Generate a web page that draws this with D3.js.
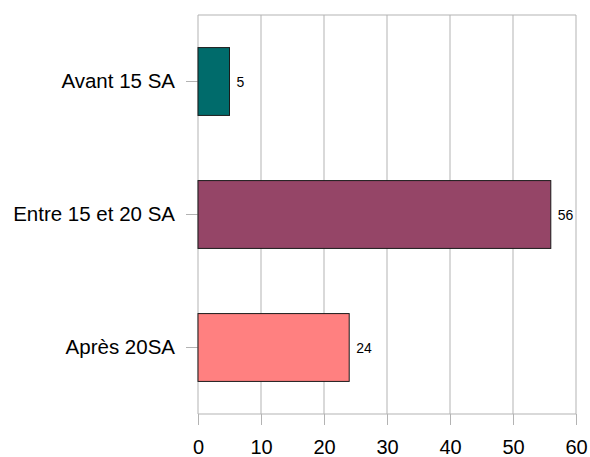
<!DOCTYPE html>
<html>
<head>
<meta charset="utf-8">
<script src="https://cdn.jsdelivr.net/npm/d3@7/dist/d3.min.js"></script>
<style>
  body { margin: 0; background: #fff; }
  svg text { font-family: "Liberation Sans", Arial, sans-serif; fill: #000; }
</style>
</head>
<body>
<div id="chart"></div>
<script>
// chart data
var categories = ["Avant 15 SA", "Entre 15 et 20 SA", "Après 20SA"];
var values = [5, 56, 24];
var colors = ["#006b6b", "#954567", "#ff8080"];
var xTicks = [0, 10, 20, 30, 40, 50, 60];

var width = 590, height = 457;
var margin = {top: 15, right: 14, bottom: 43, left: 198};
var plotW = width - margin.left - margin.right;
var plotH = height - margin.top - margin.bottom;

var svg = d3.select("#chart").append("svg")
    .attr("width", width)
    .attr("height", height);

var g = svg.append("g")
    .attr("transform", "translate(" + margin.left + "," + margin.top + ")");

var x = d3.scaleLinear().domain([0, 60]).range([0, plotW]);
var y = d3.scaleBand().domain(categories).range([0, plotH]).paddingInner(0.49).paddingOuter(0.245);
var band = d3.scaleBand().domain(categories).range([0, plotH]);

// grid lines
g.selectAll(".grid").data(xTicks).enter().append("line")
    .attr("class", "grid")
    .attr("x1", function (d) { return x(d); })
    .attr("x2", function (d) { return x(d); })
    .attr("y1", 0)
    .attr("y2", plotH)
    .attr("stroke", "#b3b3b3")
    .attr("stroke-width", 1);

// top and bottom border
g.append("line").attr("x1", 0).attr("x2", plotW).attr("y1", 0).attr("y2", 0)
    .attr("stroke", "#b3b3b3");
g.append("line").attr("x1", 0).attr("x2", plotW).attr("y1", plotH).attr("y2", plotH)
    .attr("stroke", "#b3b3b3");

// x axis
var xAxis = g.append("g")
    .attr("transform", "translate(0," + plotH + ")")
    .call(d3.axisBottom(x).tickValues(xTicks).tickSize(11).tickPadding(15));
xAxis.select(".domain").remove();
xAxis.selectAll(".tick line").attr("stroke", "#b3b3b3");
xAxis.selectAll(".tick text").style("font-size", "20px").attr("fill", "#000");

// y axis (category ticks)
var yAxis = g.append("g")
    .call(d3.axisLeft(band).tickSize(12).tickPadding(11));
yAxis.select(".domain").remove();
yAxis.selectAll(".tick line").attr("stroke", "#b3b3b3");
yAxis.selectAll(".tick text").style("font-size", "20.5px").attr("fill", "#000");

// bars
g.selectAll(".bar").data(values).enter().append("rect")
    .attr("class", "bar")
    .attr("x", x(0))
    .attr("y", function (d, i) { return y(categories[i]); })
    .attr("width", function (d) { return x(d) - x(0); })
    .attr("height", y.bandwidth())
    .attr("fill", function (d, i) { return colors[i]; })
    .attr("stroke", "#1a1a1a")
    .attr("stroke-width", 1);

// value labels
g.selectAll(".val").data(values).enter().append("text")
    .attr("class", "val")
    .attr("x", function (d) { return x(d) + 7; })
    .attr("y", function (d, i) { return y(categories[i]) + y.bandwidth() / 2; })
    .attr("dominant-baseline", "central")
    .style("font-size", "14px")
    .text(function (d) { return d; });
</script>
</body>
</html>
